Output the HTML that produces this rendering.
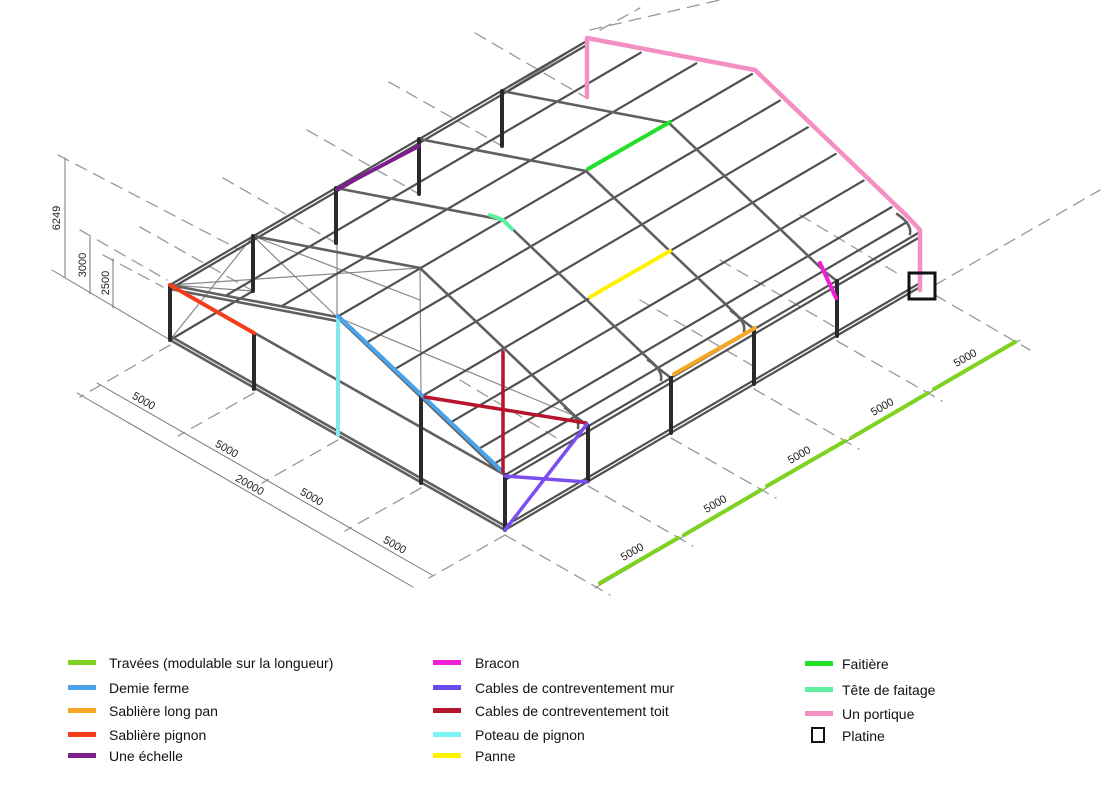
<!DOCTYPE html>
<html><head><meta charset="utf-8"><style>
html,body{margin:0;padding:0;background:#fff;width:1110px;height:785px;overflow:hidden;position:relative}
.lg{position:absolute;font-family:"Liberation Sans",sans-serif;font-size:14px;color:#111;white-space:nowrap;line-height:16px}
.sw{position:absolute;width:28px;height:5px}
</style></head><body>
<svg width="1110" height="785" style="position:absolute;left:0;top:0" xmlns="http://www.w3.org/2000/svg">
<g fill="none" stroke-linecap="round">
<g stroke="#999" stroke-width="1.3" stroke-dasharray="12,8">
<line x1="58" y1="155" x2="240" y2="250"/>
<line x1="80" y1="230" x2="167" y2="280"/>
<line x1="103" y1="255" x2="163" y2="287"/>
<line x1="140" y1="227" x2="253" y2="291"/>
<line x1="223" y1="178" x2="336" y2="243"/>
<line x1="307" y1="130" x2="419" y2="194"/>
<line x1="389" y1="82" x2="502" y2="146"/>
<line x1="475" y1="33" x2="585" y2="97"/>
<line x1="600" y1="30" x2="640" y2="8"/>
<line x1="170" y1="345" x2="80" y2="397"/>
<line x1="254" y1="393" x2="178" y2="436"/>
<line x1="338" y1="440" x2="262" y2="483"/>
<line x1="421" y1="488" x2="345" y2="531"/>
<line x1="505" y1="535" x2="429" y2="578"/>
<line x1="505" y1="535" x2="610" y2="595"/>
<line x1="588" y1="486" x2="693" y2="546"/>
<line x1="671" y1="438" x2="776" y2="498"/>
<line x1="754" y1="389" x2="859" y2="449"/>
<line x1="837" y1="341" x2="942" y2="401"/>
<line x1="935" y1="295" x2="1030" y2="350"/>
<line x1="935" y1="285" x2="1100" y2="190"/>
<line x1="460" y1="380" x2="560" y2="440"/>
<line x1="640" y1="300" x2="760" y2="370"/>
<line x1="720" y1="260" x2="840" y2="330"/>
<line x1="800" y1="215" x2="900" y2="275"/>
<line x1="590" y1="30" x2="720" y2="0"/>
</g>
<g stroke="#777" stroke-width="1">
<line x1="65" y1="158" x2="65" y2="277"/>
<line x1="90" y1="237" x2="90" y2="294"/>
<line x1="113" y1="259" x2="113" y2="308"/>
<line x1="52" y1="270" x2="170" y2="340"/>
<line x1="77" y1="393" x2="413" y2="587"/>
<line x1="97" y1="383" x2="432" y2="575"/>
<line x1="595" y1="588" x2="1020" y2="340"/>
</g>
<g stroke="#7ed321" stroke-width="4">
<line x1="600" y1="583" x2="678" y2="538"/>
<line x1="684" y1="535" x2="761" y2="490"/>
<line x1="767" y1="486" x2="845" y2="441"/>
<line x1="851" y1="438" x2="928" y2="393"/>
<line x1="934" y1="389" x2="1015" y2="342"/>
</g>
<g stroke="#888" stroke-width="1.2">
<line x1="170" y1="285" x2="420" y2="268"/>
<line x1="253" y1="236" x2="337" y2="317"/>
<line x1="170" y1="285" x2="253" y2="291"/>
<line x1="170" y1="340" x2="253" y2="236"/>
<line x1="337" y1="222" x2="337" y2="316"/>
<line x1="420" y1="268" x2="421" y2="396"/>
<line x1="337" y1="317" x2="575" y2="416"/>
<line x1="253" y1="236" x2="420" y2="300"/>
<line x1="505" y1="92" x2="585" y2="42"/>
</g>
<g stroke="#505050" stroke-width="2.2">
<line x1="170" y1="285" x2="585" y2="42"/>
<line x1="170" y1="289" x2="585" y2="46"/>
<line x1="225.7" y1="295.7" x2="640.7" y2="52.7"/>
<line x1="281.3" y1="306.3" x2="696.3" y2="63.3"/>
<line x1="337" y1="317" x2="752" y2="74"/>
<line x1="364.9" y1="343.6" x2="779.9" y2="100.6"/>
<line x1="392.8" y1="370.3" x2="807.8" y2="127.3"/>
<line x1="420.7" y1="396.9" x2="835.7" y2="153.9"/>
<line x1="448.6" y1="423.6" x2="863.6" y2="180.6"/>
<line x1="476.5" y1="450.2" x2="891.5" y2="207.2"/>
<line x1="492" y1="465" x2="907" y2="222"/>
<line x1="505" y1="475" x2="920" y2="232"/>
<line x1="505" y1="480" x2="920" y2="237"/>
<line x1="505" y1="530" x2="920" y2="287"/>
<line x1="505" y1="526" x2="920" y2="283"/>
<line x1="170" y1="340" x2="253" y2="291"/>
</g>
<g stroke="#606060" stroke-width="2.6">
<polyline points="170,285 337,317 492,465 505,475"/>
<polyline points="170,289 337,321"/>
<polyline points="253,236 420,268 575,416 588,426"/>
<polyline points="336,188 503,220 658,368 671,378"/>
<polyline points="419,139 586,171 741,319 754,329"/>
<polyline points="502,91 669,123 824,271 837,281"/>
<line x1="170" y1="285" x2="505" y2="475"/>
<line x1="170" y1="340" x2="505" y2="530"/>
<line x1="170" y1="336" x2="505" y2="526"/>
<path d="M565,408 Q580,418 578,428"/>
<path d="M648,360 Q663,370 661,380"/>
<path d="M731,311 Q746,321 744,331"/>
<path d="M897,214 Q912,224 910,234"/>
</g>
<g stroke="#2a2a2a" stroke-width="4">
<line x1="170" y1="285" x2="170" y2="340"/>
<line x1="253" y1="236" x2="253" y2="291"/>
<line x1="336" y1="188" x2="336" y2="243"/>
<line x1="419" y1="139" x2="419" y2="194"/>
<line x1="502" y1="91" x2="502" y2="146"/>
<line x1="254" y1="334" x2="254" y2="389"/>
<line x1="421" y1="396" x2="421" y2="483"/>
<line x1="505" y1="475" x2="505" y2="530"/>
<line x1="588" y1="426" x2="588" y2="481"/>
<line x1="671" y1="378" x2="671" y2="433"/>
<line x1="754" y1="329" x2="754" y2="384"/>
<line x1="837" y1="281" x2="837" y2="336"/>
</g>
<line x1="170" y1="285" x2="254" y2="333" stroke="#f53d1c" stroke-width="4"/>
<line x1="337" y1="189" x2="419" y2="146" stroke="#7a1f8c" stroke-width="4"/>
<line x1="338" y1="316" x2="338" y2="435" stroke="#7de8f0" stroke-width="4"/>
<line x1="338" y1="316" x2="503" y2="472" stroke="#4aa3ea" stroke-width="4"/>
<line x1="425" y1="397" x2="586" y2="423" stroke="#b5142c" stroke-width="3.5"/>
<line x1="503" y1="352" x2="503" y2="472" stroke="#b5142c" stroke-width="3.5"/>
<line x1="505" y1="476" x2="587" y2="482" stroke="#7b4ef0" stroke-width="3.5"/>
<line x1="505" y1="530" x2="587" y2="424" stroke="#7b4ef0" stroke-width="3.5"/>
<line x1="588" y1="169" x2="670" y2="122" stroke="#22e02a" stroke-width="4"/>
<polyline points="490,215 503,220 512,229" stroke="#5ef0a0" stroke-width="4"/>
<line x1="590" y1="297" x2="670" y2="251" stroke="#fff200" stroke-width="4"/>
<line x1="674" y1="374" x2="755" y2="328" stroke="#f5a623" stroke-width="4"/>
<line x1="820" y1="263" x2="836" y2="298" stroke="#f01ed8" stroke-width="4"/>
<polyline points="587,97 587,38 755,70 907,216 920,230 920,290" stroke="#f48fc4" stroke-width="4.5" stroke-linejoin="round"/>
<rect x="909" y="273" width="26" height="26" stroke="#111" stroke-width="3"/>
</g>
<g font-family="Liberation Sans, sans-serif" font-size="11" fill="#222" text-anchor="middle">
<text transform="translate(60,218) rotate(-90)">6249</text>
<text transform="translate(86,265) rotate(-90)">3000</text>
<text transform="translate(109,283) rotate(-90)">2500</text>
<text transform="translate(142,404) rotate(30)">5000</text>
<text transform="translate(225,452) rotate(30)">5000</text>
<text transform="translate(248,488) rotate(30)">20000</text>
<text transform="translate(310,500) rotate(30)">5000</text>
<text transform="translate(393,548) rotate(30)">5000</text>
<text transform="translate(634,555) rotate(-30)">5000</text>
<text transform="translate(717,507) rotate(-30)">5000</text>
<text transform="translate(801,458) rotate(-30)">5000</text>
<text transform="translate(884,410) rotate(-30)">5000</text>
<text transform="translate(967,361) rotate(-30)">5000</text>
</g>
</svg>

<div class="sw" style="left:68px;top:660px;background:#7ed321"></div><div class="lg" style="left:109px;top:655px">Travées (modulable sur la longueur)</div>
<div class="sw" style="left:68px;top:685px;background:#4aa3ea"></div><div class="lg" style="left:109px;top:680px">Demie ferme</div>
<div class="sw" style="left:68px;top:708px;background:#f5a623"></div><div class="lg" style="left:109px;top:703px">Sablière long pan</div>
<div class="sw" style="left:68px;top:732px;background:#f53d1c"></div><div class="lg" style="left:109px;top:727px">Sablière pignon</div>
<div class="sw" style="left:68px;top:753px;background:#7a1f8c"></div><div class="lg" style="left:109px;top:748px">Une échelle</div>

<div class="sw" style="left:433px;top:660px;background:#f01ed8"></div><div class="lg" style="left:475px;top:655px">Bracon</div>
<div class="sw" style="left:433px;top:685px;background:#6a4cf0"></div><div class="lg" style="left:475px;top:680px">Cables de contreventement mur</div>
<div class="sw" style="left:433px;top:708px;background:#b5142c"></div><div class="lg" style="left:475px;top:703px">Cables de contreventement toit</div>
<div class="sw" style="left:433px;top:732px;background:#7df4f4"></div><div class="lg" style="left:475px;top:727px">Poteau de pignon</div>
<div class="sw" style="left:433px;top:753px;background:#fff200"></div><div class="lg" style="left:475px;top:748px">Panne</div>

<div class="sw" style="left:805px;top:661px;background:#22e02a"></div><div class="lg" style="left:842px;top:656px">Faitière</div>
<div class="sw" style="left:805px;top:687px;background:#5ef0a0"></div><div class="lg" style="left:842px;top:682px">Tête de faitage</div>
<div class="sw" style="left:805px;top:711px;background:#f48fc4"></div><div class="lg" style="left:842px;top:706px">Un portique</div>
<div style="position:absolute;left:811px;top:727px;width:10px;height:12px;border:2px solid #111"></div><div class="lg" style="left:842px;top:728px">Platine</div>
</body></html>
